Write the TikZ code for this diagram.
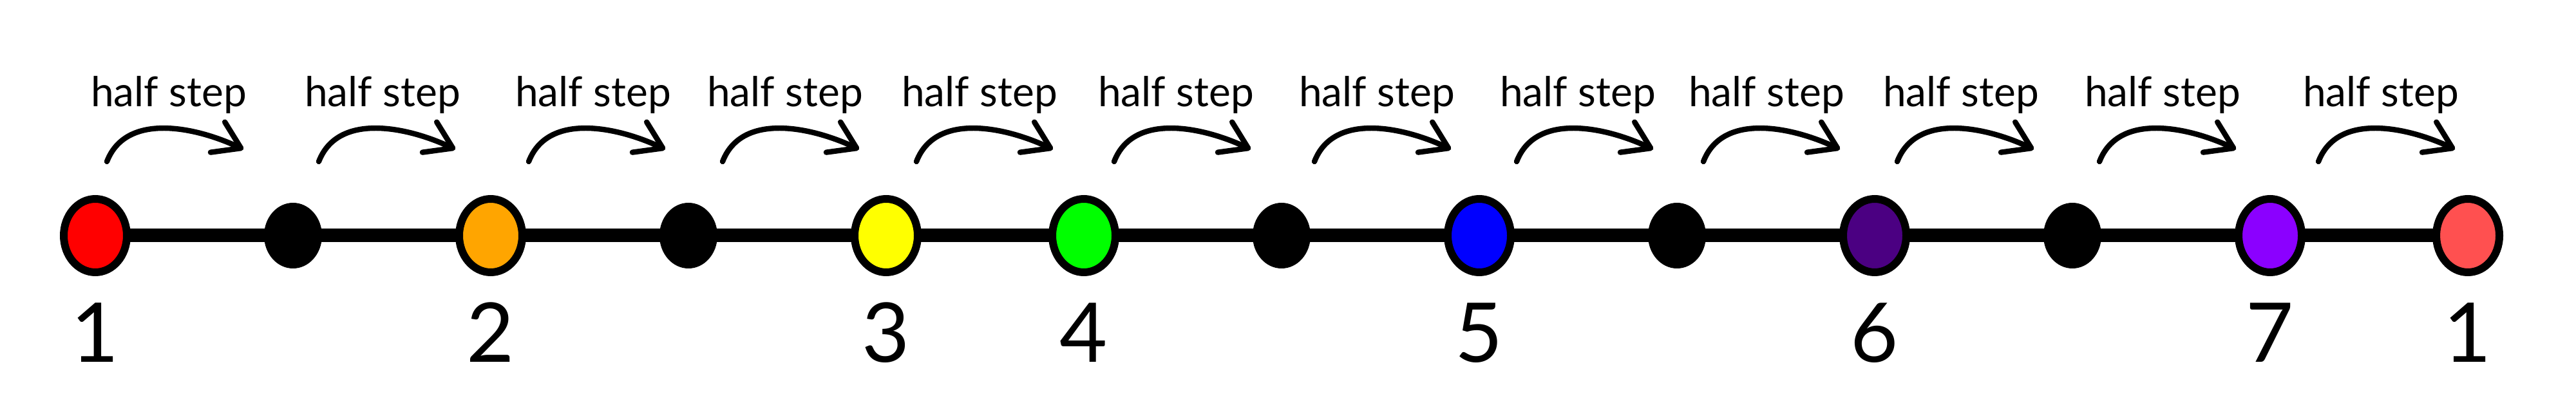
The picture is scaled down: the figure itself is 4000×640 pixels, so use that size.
\documentclass[tikz,border=0pt]{standalone}
\usepackage{fontspec}
\setmainfont{Lato}
\usetikzlibrary{arrows.meta,shapes.geometric}
\definecolor{cI}{HTML}{FF0000}
\definecolor{cII}{HTML}{FFA500}
\definecolor{cIII}{HTML}{FFFF00}
\definecolor{cIV}{HTML}{00FF00}
\definecolor{cV}{HTML}{0000FF}
\definecolor{cVI}{HTML}{4B0082}
\definecolor{cVII}{HTML}{8B00FF}
\definecolor{cVIII}{HTML}{FF5050}
\pgfdeclarelayer{paper}
\pgfdeclarelayer{lines}
\pgfsetlayers{paper,lines,main}
\begin{document}
\begin{tikzpicture}[x=0.25pt,y=-0.25pt,
  tone/.style={ellipse, draw=black, line width=3pt, fill=#1,
    minimum width=24.5pt, minimum height=28.5pt, inner sep=0pt},
  blackdot/.style={ellipse, fill=black, draw=none,
    minimum width=22.5pt, minimum height=25.5pt, inner sep=0pt},
  scaleline/.style={line width=5.25pt, black},
  degree/.style={anchor=base, font=\fontsize{32}{36}\selectfont, inner sep=0pt},
  steplabel/.style={anchor=base, font=\fontsize{16}{19}\selectfont, inner sep=0pt},
  steparrow/.style={line width=2.1pt, line cap=round,
    -{Straight Barb[length=10pt,width=13pt,round]}}
]
\begin{pgfonlayer}{paper}
\fill[white] (0,0) rectangle (4000,640);
\end{pgfonlayer}
\useasboundingbox (0,0) rectangle (4000,640);

% notes
\node[tone=cI]    (n0)  at (148,366) {};
\node[blackdot]   (n1)  at (455,366) {};
\node[tone=cII]   (n2)  at (762,366) {};
\node[blackdot]   (n3)  at (1069,366) {};
\node[tone=cIII]  (n4)  at (1376,366) {};
\node[tone=cIV]   (n5)  at (1683,366) {};
\node[blackdot]   (n6)  at (1990,366) {};
\node[tone=cV]    (n7)  at (2297,366) {};
\node[blackdot]   (n8)  at (2604,366) {};
\node[tone=cVI]   (n9)  at (2911,366) {};
\node[blackdot]   (n10) at (3218,366) {};
\node[tone=cVII]  (n11) at (3525,366) {};
\node[tone=cVIII] (n12) at (3832,366) {};

% line segments (behind the notes)
\begin{pgfonlayer}{lines}
\foreach \a/\b in {n0/n1,n1/n2,n2/n3,n3/n4,n4/n5,n5/n6,n6/n7,n7/n8,n8/n9,n9/n10,n10/n11,n11/n12}
  \draw[scaleline] (\a.center) -- (\b.center);
\end{pgfonlayer}

% degree numbers
\node[degree] (d1) at (148,562) {1};
\node[degree] (d2) at (762,562) {2};
\node[degree] (d3) at (1376,562) {3};
\node[degree] (d4) at (1683,562) {4};
\node[degree] (d5) at (2297,562) {5};
\node[degree] (d6) at (2911,562) {6};
\node[degree] (d7) at (3525,562) {7};
\node[degree] (d8) at (3832,562) {1};

% half step labels and arrows
\foreach \i/\lx/\sx in {1/262/166, 2/594/495, 3/921/821, 4/1219/1122, 5/1521/1423,
  6/1826/1730, 7/2138/2041, 8/2450/2355, 9/2743/2645, 10/3045/2946,
  11/3358/3260, 12/3697/3600} {
  \node[steplabel] (h\i) at (\lx,166) {half step};
  \coordinate (s\i) at (\sx,251);
  \coordinate (e\i) at ({\sx+212},232);
  \draw[steparrow] (s\i) .. controls +(30,-78) and +(-72,-34) .. (e\i);
}
\end{tikzpicture}
\end{document}
